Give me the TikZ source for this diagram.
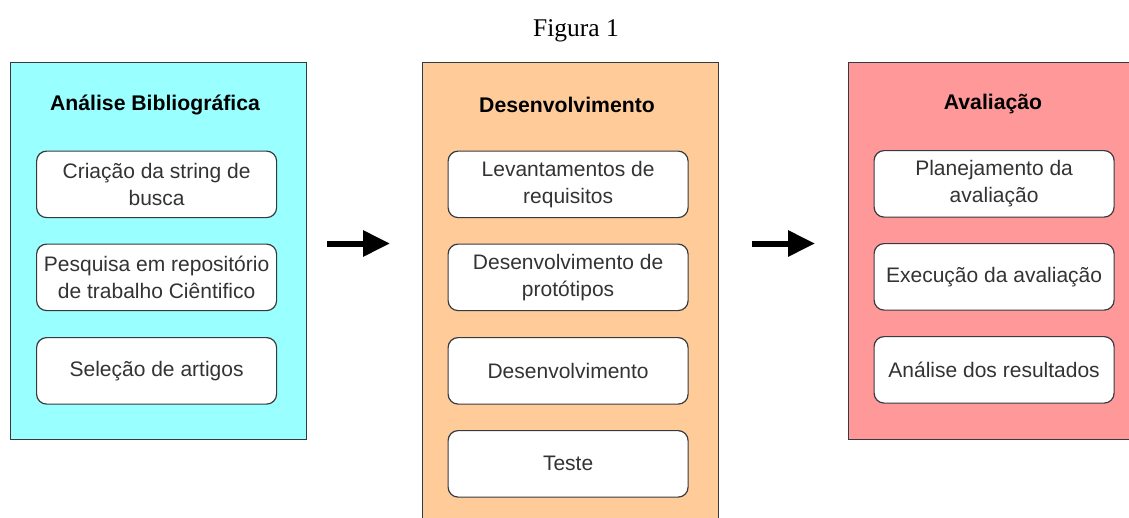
\documentclass[tikz,border=0pt]{standalone}
\usepackage{fontspec}
\setmainfont{Liberation Serif}
\newfontfamily\arialf{Liberation Sans}
\usetikzlibrary{arrows.meta}
\definecolor{cyanfill}{HTML}{99FFFF}
\definecolor{orangefill}{HTML}{FFCC99}
\definecolor{redfill}{HTML}{FF9999}
\definecolor{edgegrey}{HTML}{36393D}
\definecolor{txtgrey}{HTML}{333333}
\tikzset{
  panel/.style={draw=edgegrey, line width=1.2pt, anchor=north west, inner sep=0pt},
  ttl/.style={font=\arialf\fontsize{21.2}{25}\selectfont\bfseries, text=black, anchor=center},
  item/.style={draw=edgegrey, line width=1.2pt, fill=white, rounded corners=10pt,
    minimum width=240pt, minimum height=66.5pt, align=center, anchor=north west,
    text=txtgrey, font=\arialf\fontsize{21}{26.5}\selectfont, inner sep=0pt},
  bigarrow/.style={line width=6pt, -{Triangle[length=27pt,width=25pt]}}
}
\begin{document}
\begin{tikzpicture}[x=1pt,y=-1pt]
\clip (0,0) rectangle (1129,517);
\fill[white] (0,0) rectangle (1129,517);
\node[font=\fontsize{25.5}{30}\selectfont, anchor=center] (fig) at (576,31) {Figura 1};
% panels
\node[panel, fill=cyanfill, minimum width=296pt, minimum height=377pt] (p1) at (10,61.5) {};
\node[panel, fill=orangefill, minimum width=296pt, minimum height=480pt] (p2) at (421.5,61.5) {};
\node[panel, fill=redfill, minimum width=300pt, minimum height=377pt] (p3) at (848,61.5) {};
% titles
\node[ttl] (t1) at (155,105) {Análise Bibliográfica};
\node[ttl] (t2) at (567,105) {Desenvolvimento};
\node[ttl] (t3) at (993,104) {Avaliação};
% left items
\node[item] (a1) at (36,150.5) {Criação da string de\\busca};
\node[item] (a2) at (36,243.5) {Pesquisa em repositório\\de trabalho Ciêntifico};
\node[item] (a3) at (36,337) {Seleção de artigos};
% middle items
\node[item] (b1) at (447.5,150.5) {Levantamentos de\\requisitos};
\node[item] (b2) at (447.5,243.5) {Desenvolvimento de\\protótipos};
\node[item] (b3) at (447.5,337) {Desenvolvimento};
\node[item] (b4) at (447.5,430) {Teste};
% right items
\node[item] (c1) at (873.5,150) {Planejamento da\\avaliação};
\node[item] (c2) at (873.5,243) {Execução da avaliação};
\node[item] (c3) at (873.5,336) {Análise dos resultados};
% arrows
\coordinate (s1) at (327,243.5);
\coordinate (e1) at (390,243.5);
\coordinate (s2) at (752,243.5);
\coordinate (e2) at (815,243.5);
\draw[bigarrow] (s1) -- (e1);
\draw[bigarrow] (s2) -- (e2);
\end{tikzpicture}
\end{document}
